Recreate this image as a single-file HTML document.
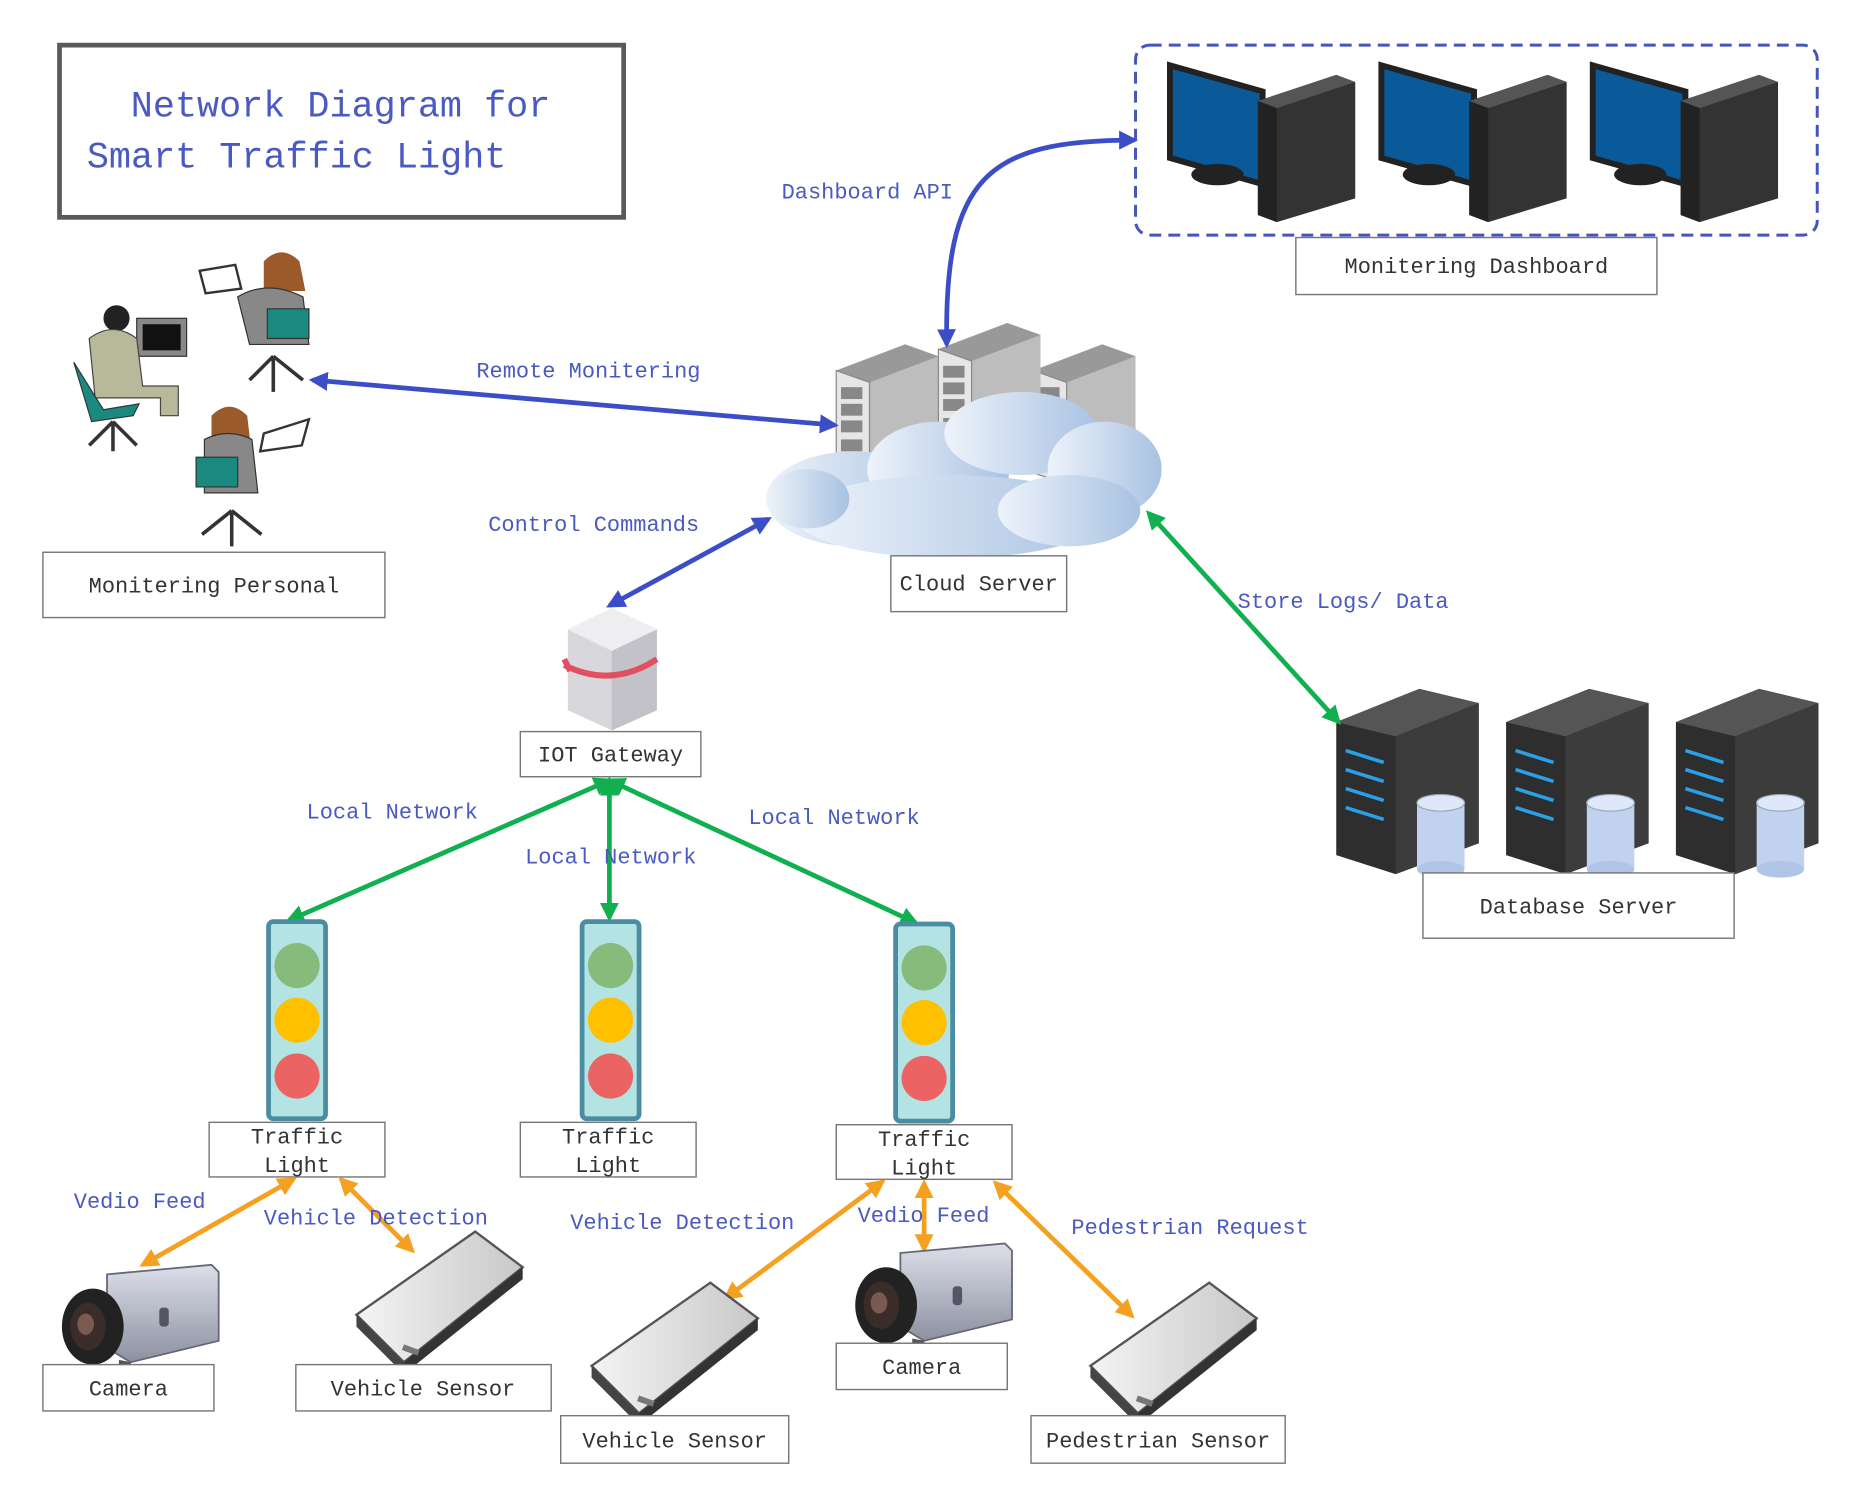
<!DOCTYPE html>
<html><head><meta charset="utf-8"><style>
html,body{margin:0;padding:0;background:#fff;}
svg{display:block;}
.t{font-family:"Liberation Mono","Noto Serif CJK SC",monospace;fill:#4a5ac0;font-size:18.5px;}
.l{font-family:"Liberation Mono","Noto Serif CJK SC",monospace;fill:#333;font-size:18.5px;}
.lb{fill:#fff;stroke:#777;stroke-width:1.2;}
</style></head><body>
<svg width="1853" height="1500" viewBox="0 0 1560 1263" xmlns="http://www.w3.org/2000/svg">
<defs>
<marker id="ab" viewBox="0 0 10 10" refX="8" refY="5" markerWidth="4" markerHeight="4" orient="auto-start-reverse"><path d="M0,0L10,5L0,10z" fill="#3b4ec8"/></marker>
<marker id="ag" viewBox="0 0 10 10" refX="8" refY="5" markerWidth="4" markerHeight="4" orient="auto-start-reverse"><path d="M0,0L10,5L0,10z" fill="#10b050"/></marker>
<marker id="ao" viewBox="0 0 10 10" refX="8" refY="5" markerWidth="4" markerHeight="4" orient="auto-start-reverse"><path d="M0,0L10,5L0,10z" fill="#f5a020"/></marker>
<linearGradient id="cl" x1="0" x2="1"><stop offset="0" stop-color="#eef3fa"/><stop offset="1" stop-color="#a8c2e2"/></linearGradient>
<linearGradient id="sv" x1="0" x2="1"><stop offset="0" stop-color="#f4f4f4"/><stop offset="1" stop-color="#c8c8c8"/></linearGradient>
<linearGradient id="cam" x1="0" y1="0" x2="0" y2="1"><stop offset="0" stop-color="#dde0ea"/><stop offset="1" stop-color="#8c90a0"/></linearGradient>
<g id="pc">
<polygon points="0,0 78,22 78,100 0,78" fill="#0a5a9a" stroke="#222" stroke-width="5"/>
<ellipse cx="40" cy="92" rx="22" ry="9" fill="#222"/>
<polygon points="74,30 140,8 156,14 156,112 90,132 74,126" fill="#333"/>
<polygon points="74,30 140,8 156,14 90,36" fill="#555"/>
<polygon points="74,30 90,36 90,132 74,126" fill="#222"/>
</g>
<g id="db">
<polygon points="0,28 70,0 120,12 120,130 50,156 0,140" fill="#2e2e2e"/>
<polygon points="0,28 70,0 120,12 50,40" fill="#555"/>
<polygon points="50,40 120,12 120,130 50,156" fill="#3c3c3c"/>
<g stroke="#2aa0e8" stroke-width="3"><line x1="8" y1="52" x2="40" y2="62"/><line x1="8" y1="68" x2="40" y2="78"/><line x1="8" y1="84" x2="40" y2="94"/><line x1="8" y1="100" x2="40" y2="110"/></g>
<rect x="68" y="96" width="40" height="56" fill="#c0d2ee"/>
<ellipse cx="88" cy="96" rx="20" ry="7" fill="#dfe8f8" stroke="#9ab" stroke-width="1"/>
<ellipse cx="88" cy="152" rx="20" ry="7" fill="#b0c4e6"/>
</g>
<g id="tl">
<rect x="0" y="0" width="48" height="166" rx="4" fill="#b3e3e3" stroke="#4a8ca2" stroke-width="4"/>
<circle cx="24" cy="37" r="19" fill="#86bb7c"/>
<circle cx="24" cy="83" r="19" fill="#ffc000"/>
<circle cx="24" cy="130" r="19" fill="#ec6363"/>
</g>
<g id="sen">
<polygon points="0,70 100,0 140,30 40,110" fill="url(#sv)" stroke="#555" stroke-width="2"/>
<polygon points="0,70 40,110 40,120 0,80" fill="#444"/>
<polygon points="40,110 140,30 140,40 40,120" fill="#333"/>
<rect x="40" y="95" width="14" height="5" fill="#777" transform="rotate(20 40 95)"/>
</g>
<g id="cm">
<polygon points="40,8 128,0 134,6 134,64 60,82 40,70" fill="url(#cam)" stroke="#667" stroke-width="1.5"/>
<rect x="84" y="36" width="8" height="16" rx="3" fill="#556"/>
<ellipse cx="28" cy="52" rx="26" ry="32" fill="#222"/>
<ellipse cx="24" cy="52" rx="15" ry="20" fill="#3a2c28"/>
<ellipse cx="22" cy="50" rx="7" ry="9" fill="#7a5a50"/>
<polygon points="50,80 60,82 60,94 50,92" fill="#555"/>
</g>
<g id="srv">
<polygon points="0,22 58,0 86,10 86,96 28,118 0,108" fill="#bdbdbd"/>
<polygon points="0,22 58,0 86,10 28,32" fill="#999"/>
<polygon points="0,22 28,32 28,118 0,108" fill="#e6e6e6" stroke="#888" stroke-width="1"/>
<g fill="#888"><rect x="4" y="36" width="18" height="10"/><rect x="4" y="50" width="18" height="10"/><rect x="4" y="64" width="18" height="10"/><rect x="4" y="80" width="18" height="10"/></g>
</g>
</defs>

<!-- title -->
<rect x="50" y="38" width="475" height="145" fill="#fff" stroke="#5a5a5a" stroke-width="4"/>
<text class="t" x="110" y="98" style="font-size:31px">Network Diagram for</text>
<text class="t" x="73" y="141" style="font-size:31px">Smart Traffic Light</text>

<!-- dashboard -->
<rect x="956" y="38" width="574" height="160" rx="12" fill="none" stroke="#4455bb" stroke-width="2.5" stroke-dasharray="10,6"/>
<use href="#pc" x="985" y="55"/><use href="#pc" x="1163" y="55"/><use href="#pc" x="1341" y="55"/>
<rect class="lb" x="1091" y="200" width="304" height="48"/>
<text class="l" x="1243" y="230" text-anchor="middle">Monitering Dashboard</text>

<!-- cloud server -->
<use href="#srv" x="704" y="290"/><use href="#srv" x="870" y="290"/><use href="#srv" x="790" y="272"/>
<g fill="url(#cl)">
<ellipse cx="720" cy="420" rx="75" ry="40"/><ellipse cx="790" cy="395" rx="60" ry="40"/>
<ellipse cx="860" cy="365" rx="65" ry="35"/><ellipse cx="930" cy="395" rx="48" ry="40"/>
<ellipse cx="800" cy="435" rx="130" ry="35"/><ellipse cx="900" cy="430" rx="60" ry="30"/>
<ellipse cx="680" cy="420" rx="35" ry="25"/>
</g>
<rect class="lb" x="750" y="468" width="148" height="47"/>
<text class="l" x="824" y="497" text-anchor="middle">Cloud Server</text>

<!-- people -->
<g>
<rect x="115" y="268" width="42" height="32" fill="#888" stroke="#333"/><rect x="120" y="273" width="32" height="22" fill="#111"/>
<circle cx="98" cy="268" r="11" fill="#222"/>
<path d="M75,285 q20,-15 40,0 l5,40 h30 v25 h-15 v-15 h-55z" fill="#b8b89a" stroke="#444"/>
<path d="M62,305 l25,40 l30,-5 l-5,10 l-35,5z" fill="#1a8a80" stroke="#333"/>
<path d="M95,355 l-20,20 M95,355 l20,20 M95,355 v25" stroke="#333" stroke-width="3"/>
<path d="M168,228 l30,-5 l5,20 l-30,4z" fill="#fff" stroke="#333" stroke-width="2"/>
<path d="M222,220 q15,-15 30,0 l5,25 h-35z" fill="#9a5a2a"/>
<path d="M200,250 q25,-15 55,0 l5,40 h-50z" fill="#888" stroke="#333"/>
<path d="M225,260 h35 v25 h-35z" fill="#1a8a80" stroke="#333"/>
<path d="M230,300 l-20,20 M230,300 l25,20 M230,300 v30" stroke="#333" stroke-width="3"/>
<path d="M178,350 q15,-15 30,0 l3,25 h-33z" fill="#9a5a2a"/>
<path d="M172,370 q20,-10 40,0 l5,45 h-45z" fill="#888" stroke="#333"/>
<path d="M165,385 h35 v25 h-35z" fill="#1a8a80" stroke="#333"/>
<path d="M222,365 l38,-12 l-6,22 l-35,5z" fill="#fff" stroke="#333" stroke-width="2"/>
<path d="M195,430 l-25,20 M195,430 l25,20 M195,430 v30" stroke="#333" stroke-width="3"/>
</g>
<rect class="lb" x="36" y="465" width="288" height="55"/>
<text class="l" x="180" y="499" text-anchor="middle">Monitering Personal</text>

<!-- gateway -->
<polygon points="478,530 515,512 553,530 553,598 515,615 478,598" fill="#d8d8dc"/>
<polygon points="478,530 515,512 553,530 515,548" fill="#eeeef0"/>
<polygon points="515,548 553,530 553,598 515,615" fill="#c2c2c8"/>
<path d="M475,560 q40,20 78,-5 M480,565 l-5,-10" stroke="#e05060" stroke-width="5" fill="none"/>
<rect class="lb" x="438" y="616" width="152" height="38"/>
<text class="l" x="514" y="641" text-anchor="middle">IOT Gateway</text>

<!-- database -->
<use href="#db" x="1125" y="580"/><use href="#db" x="1268" y="580"/><use href="#db" x="1411" y="580"/>
<rect class="lb" x="1198" y="735" width="262" height="55"/>
<text class="l" x="1329" y="769" text-anchor="middle">Database Server</text>

<!-- blue arrows -->
<g stroke="#3b4ec8" stroke-width="4" fill="none">
<path d="M797,290 C795,150 830,118 955,118" marker-start="url(#ab)" marker-end="url(#ab)"/>
<line x1="263" y1="320" x2="703" y2="358" marker-start="url(#ab)" marker-end="url(#ab)"/>
<line x1="647" y1="437" x2="513" y2="510" marker-start="url(#ab)" marker-end="url(#ab)"/>
</g>
<text class="t" x="658" y="167">Dashboard API</text>
<text class="t" x="401" y="318">Remote Monitering</text>
<text class="t" x="411" y="447">Control Commands</text>

<!-- green -->
<g stroke="#10b050" stroke-width="4" fill="none">
<line x1="967" y1="432" x2="1127" y2="608" marker-start="url(#ag)" marker-end="url(#ag)"/>
<line x1="513" y1="657" x2="243" y2="775" marker-start="url(#ag)" marker-end="url(#ag)"/>
<line x1="513" y1="657" x2="513" y2="773" marker-start="url(#ag)" marker-end="url(#ag)"/>
<line x1="513" y1="657" x2="771" y2="777" marker-start="url(#ag)" marker-end="url(#ag)"/>
</g>
<text class="t" x="1042" y="512">Store Logs/ Data</text>
<text class="t" x="258" y="689">Local Network</text>
<text class="t" x="442" y="727">Local Network</text>
<text class="t" x="630" y="694">Local Network</text>

<!-- traffic lights -->
<use href="#tl" x="226" y="776"/><use href="#tl" x="490" y="776"/><use href="#tl" x="754" y="778"/>
<rect class="lb" x="176" y="945" width="148" height="46"/>
<text class="l" x="250" y="963" text-anchor="middle">Traffic</text><text class="l" x="250" y="987" text-anchor="middle">Light</text>
<rect class="lb" x="438" y="945" width="148" height="46"/>
<text class="l" x="512" y="963" text-anchor="middle">Traffic</text><text class="l" x="512" y="987" text-anchor="middle">Light</text>
<rect class="lb" x="704" y="947" width="148" height="46"/>
<text class="l" x="778" y="965" text-anchor="middle">Traffic</text><text class="l" x="778" y="989" text-anchor="middle">Light</text>

<!-- orange -->
<g stroke="#f5a020" stroke-width="4" fill="none">
<line x1="247" y1="993" x2="120" y2="1065" marker-start="url(#ao)" marker-end="url(#ao)"/>
<line x1="287" y1="993" x2="347" y2="1053" marker-start="url(#ao)" marker-end="url(#ao)"/>
<line x1="743" y1="995" x2="611" y2="1093" marker-start="url(#ao)" marker-end="url(#ao)"/>
<line x1="778" y1="996" x2="778" y2="1052" marker-start="url(#ao)" marker-end="url(#ao)"/>
<line x1="838" y1="996" x2="953" y2="1108" marker-start="url(#ao)" marker-end="url(#ao)"/>
</g>
<text class="t" x="62" y="1017">Vedio Feed</text>
<text class="t" x="222" y="1031">Vehicle Detection</text>
<text class="t" x="480" y="1035">Vehicle Detection</text>
<text class="t" x="722" y="1029">Vedio Feed</text>
<text class="t" x="902" y="1039">Pedestrian Request</text>

<!-- devices -->
<use href="#cm" x="50" y="1065"/><use href="#cm" x="718" y="1047"/>
<use href="#sen" x="300" y="1037"/><use href="#sen" x="498" y="1080"/><use href="#sen" x="918" y="1080"/>
<rect class="lb" x="36" y="1149" width="144" height="39"/><text class="l" x="108" y="1175" text-anchor="middle">Camera</text>
<rect class="lb" x="704" y="1131" width="144" height="39"/><text class="l" x="776" y="1157" text-anchor="middle">Camera</text>
<rect class="lb" x="249" y="1149" width="215" height="39"/><text class="l" x="356" y="1175" text-anchor="middle">Vehicle Sensor</text>
<rect class="lb" x="472" y="1192" width="192" height="40"/><text class="l" x="568" y="1219" text-anchor="middle">Vehicle Sensor</text>
<rect class="lb" x="868" y="1192" width="214" height="40"/><text class="l" x="975" y="1219" text-anchor="middle">Pedestrian Sensor</text>
</svg>
</body></html>
